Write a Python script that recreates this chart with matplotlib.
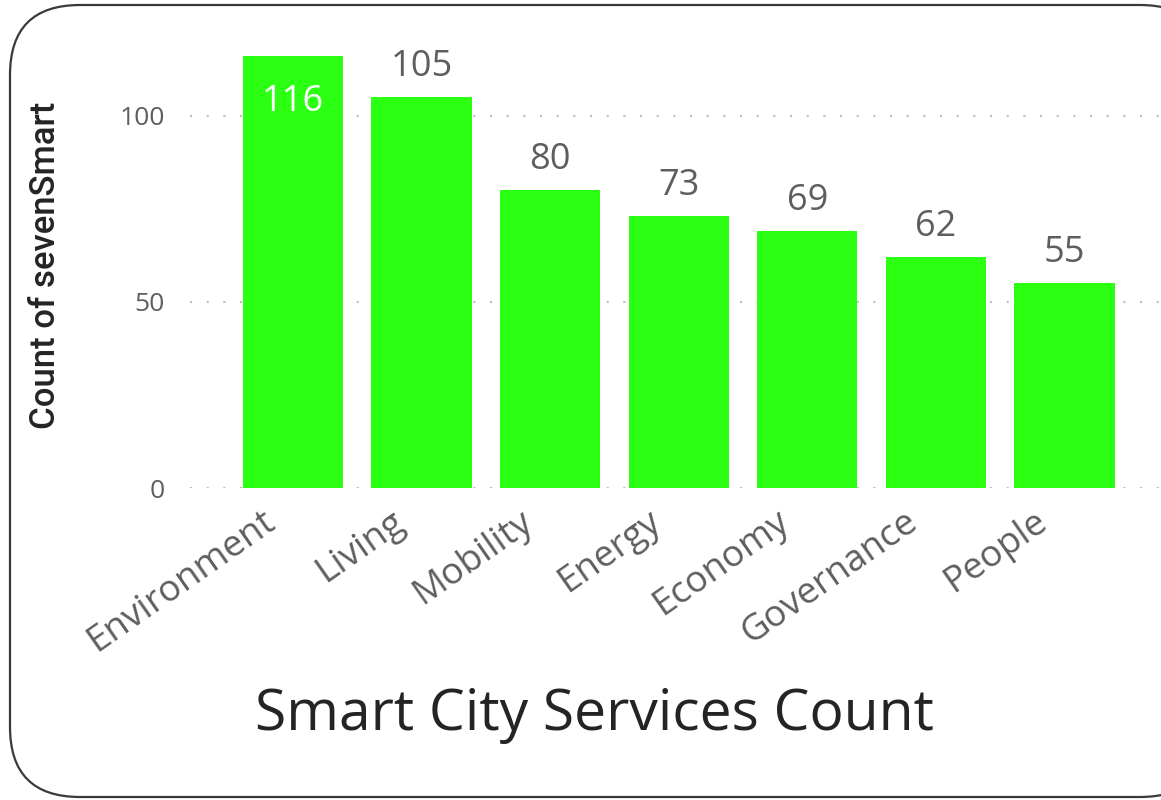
import matplotlib
matplotlib.use("Agg")
import matplotlib.pyplot as plt
import matplotlib.transforms as mtransforms
from matplotlib.patches import FancyBboxPatch

categories = ["Environment", "Living", "Mobility", "Energy", "Economy", "Governance", "People"]
counts = [116, 105, 80, 73, 69, 62, 55]
yticks = [0, 50, 100]

title = "Smart City Services Count"
ylabel = "Count of sevenSmart"

bar_color = "#2BFF12"
gray = "#605E5C"
dark = "#252423"

fig = plt.figure(figsize=(11.61, 8.0), dpi=100)

# background / rounded border in pixel coords
bg = fig.add_axes([0, 0, 1, 1], zorder=0)
bg.set_xlim(0, 1161)
bg.set_ylim(0, 800)
bg.axis("off")
border = FancyBboxPatch((10, 3), 1200, 792, boxstyle="round,pad=0,rounding_size=70",
                        facecolor="white", edgecolor="#3a3a3a", linewidth=1.6)
bg.add_patch(border)

ax = fig.add_axes([190 / 1161, 312 / 800, 1 - 190 / 1161, (488 - 30) / 800], zorder=1)
ax.patch.set_alpha(0)
x = list(range(len(categories)))
bars = ax.bar(x, counts, width=0.78, color=bar_color, zorder=2)
ax.set_xlim(-0.8, 6.75)
ax.set_ylim(0, 123)

for s in ax.spines.values():
    s.set_visible(False)
ax.set_yticks(yticks)
ax.set_yticklabels([str(t) for t in yticks], fontsize=19, color=gray, family="Open Sans")
ax.yaxis.grid(True, linestyle=(0, (1, 7)), color="#BDBDBD", linewidth=1.5, zorder=0)
ax.tick_params(axis="both", length=0)
ax.tick_params(axis="y", pad=18)

ax.set_xticks(x)
ax.set_xticklabels(categories, rotation=35, ha="right", va="center", rotation_mode="anchor",
                   fontsize=26.5, color=gray, family="Open Sans")
ax.tick_params(axis="x", pad=22)
shift = mtransforms.ScaledTranslation(-0.21, 0, fig.dpi_scale_trans)
for lbl in ax.get_xticklabels():
    lbl.set_transform(lbl.get_transform() + shift)

for xi, v in zip(x, counts):
    if v > 110:
        ax.annotate(str(v), (xi, v), xytext=(0, -20), textcoords="offset points",
                    ha="center", va="top", fontsize=26, color="white", family="Open Sans")
    else:
        ax.annotate(str(v), (xi, v), xytext=(0, 9), textcoords="offset points",
                    ha="center", va="bottom", fontsize=26, color=gray, family="Open Sans")

fig.text(46 / 1161, 1 - 265 / 800, ylabel, rotation=90, ha="center", va="center",
         fontsize=25, color=dark, family="Roboto", fontweight="medium")
fig.text(594 / 1161, 1 - 715 / 800, title, ha="center", va="center",
         fontsize=41, color=dark, family="Open Sans")

fig.savefig("out.png", dpi=100)
